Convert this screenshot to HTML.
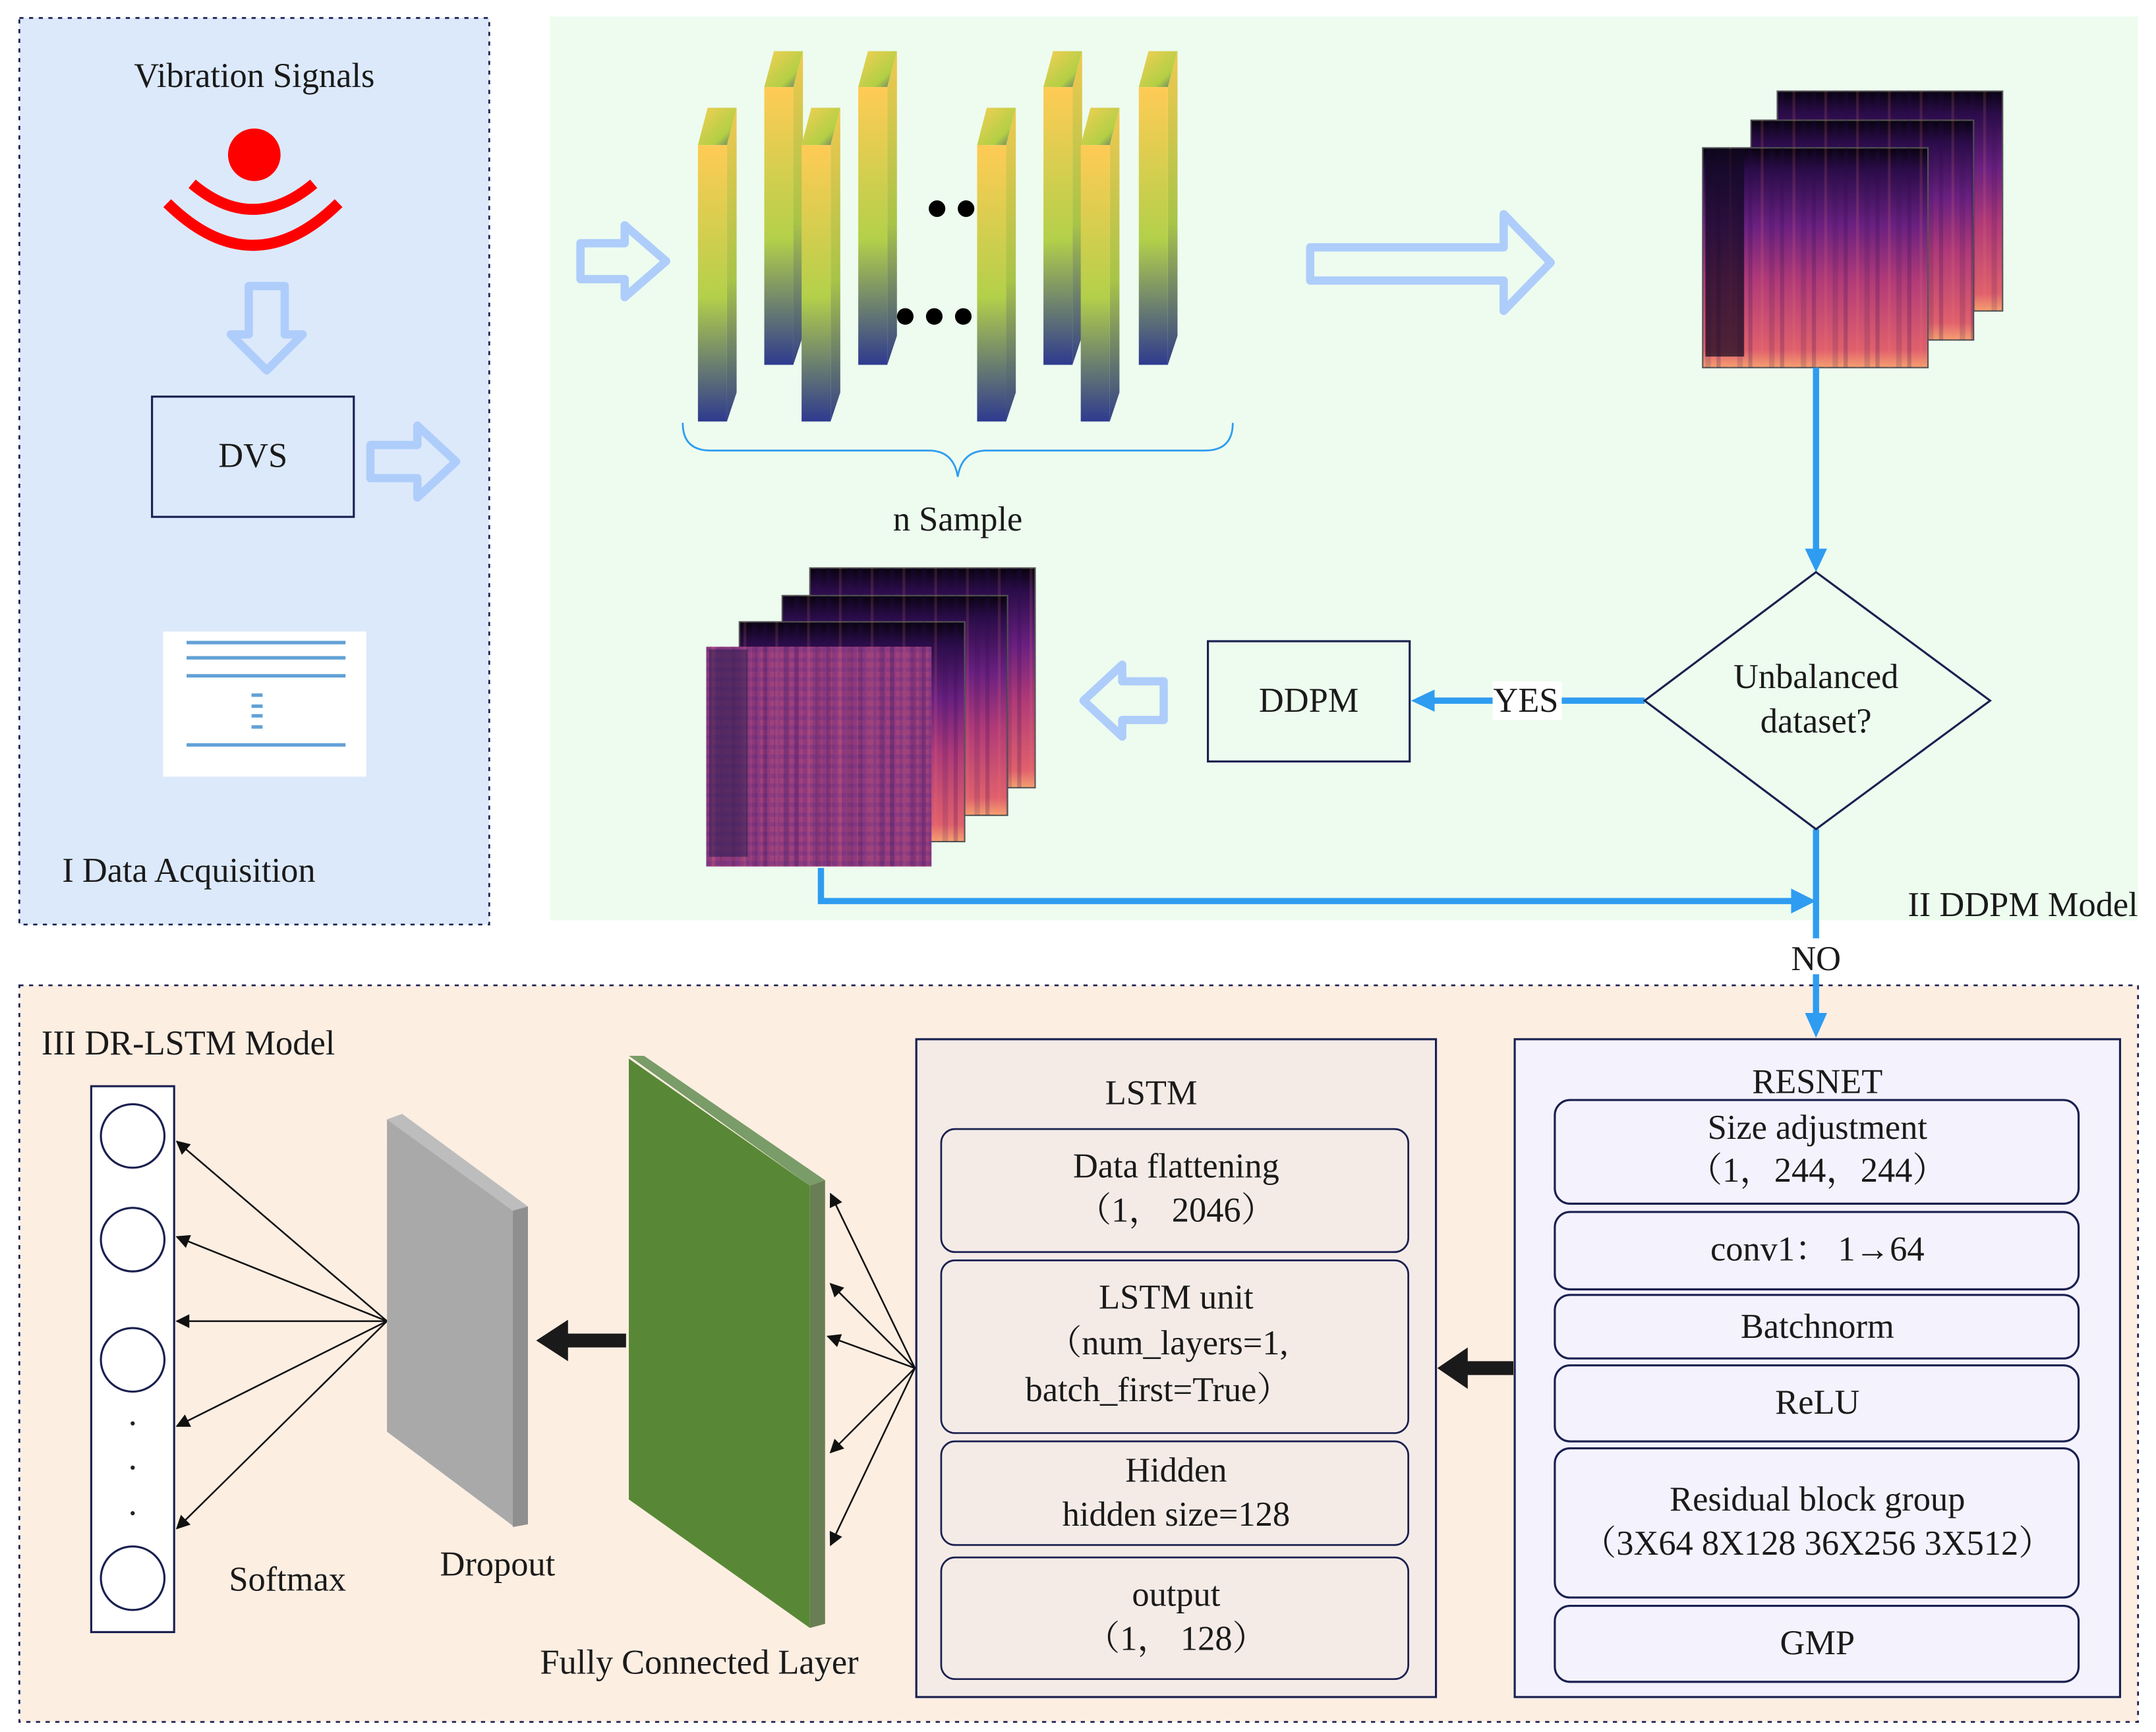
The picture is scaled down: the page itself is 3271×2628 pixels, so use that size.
<!DOCTYPE html>
<html><head><meta charset="utf-8"><style>
html,body{margin:0;padding:0;background:#fff;}
svg{display:block;}
text{font-family:"Liberation Serif","Noto Serif CJK SC",serif;fill:#1a1a1a;}
</style></head><body>
<svg width="3271" height="2628" viewBox="0 0 1560 1253.3" preserveAspectRatio="none" xmlns="http://www.w3.org/2000/svg">
<defs>
<linearGradient id="bar" x1="0" y1="0" x2="0" y2="1">
<stop offset="0" stop-color="#ffcb55"/><stop offset="0.55" stop-color="#b3d04a"/><stop offset="1" stop-color="#2e3a8f"/></linearGradient>
<linearGradient id="barS" x1="0" y1="0" x2="0" y2="1">
<stop offset="0" stop-color="#f0c850"/><stop offset="0.55" stop-color="#a8c448"/><stop offset="1" stop-color="#334088"/></linearGradient>
<linearGradient id="barT" x1="0" y1="0" x2="1" y2="1">
<stop offset="0" stop-color="#f5cf55"/><stop offset="0.7" stop-color="#b2cf45"/><stop offset="1" stop-color="#556a70"/></linearGradient>
<linearGradient id="spec" x1="0" y1="0" x2="0" y2="1">
<stop offset="0" stop-color="#08030f"/><stop offset="0.1" stop-color="#2a0c48"/><stop offset="0.35" stop-color="#6a2080"/><stop offset="0.6" stop-color="#b03a78"/><stop offset="0.92" stop-color="#e0606c"/><stop offset="1" stop-color="#f5a070"/></linearGradient>
<pattern id="stripes" width="23" height="10" patternUnits="userSpaceOnUse"><rect width="3" height="10" fill="#2a0a50" opacity="0.22"/><rect x="9" width="2" height="10" fill="#f08070" opacity="0.15"/><rect x="15" width="4" height="10" fill="#2a0a50" opacity="0.15"/></pattern>
<pattern id="noise" width="7" height="7" patternUnits="userSpaceOnUse"><rect width="3" height="3" fill="#4a2a90" opacity="0.25"/><rect x="4" y="3" width="3" height="4" fill="#e06070" opacity="0.2"/></pattern>
<marker id="ab" markerWidth="10" markerHeight="10" refX="9" refY="5" orient="auto" markerUnits="userSpaceOnUse"><path d="M0,0 L10,5 L0,10 Z" fill="#111"/></marker>
</defs>

<rect x="14" y="13" width="340" height="656" fill="#dce9fb" stroke="#1a2050" stroke-width="1.3" stroke-dasharray="3,4"/>
<rect x="398" y="12" width="1149" height="654" fill="#edfcef"/>
<rect x="14" y="713" width="1533" height="533" fill="#fdeee2" stroke="#1a2050" stroke-width="1.3" stroke-dasharray="3,4"/>

<text x="184" y="63" font-size="25" text-anchor="middle">Vibration Signals</text>
<ellipse cx="184" cy="112" rx="19" ry="19" fill="#ff0000"/>
<path d="M139,133 Q183,170 227,133" fill="none" stroke="#ff0000" stroke-width="8"/>
<path d="M121,147 Q183,208 245,147" fill="none" stroke="#ff0000" stroke-width="8"/>
<path d="M180,207 L206,207 L206,242 L219,242 L193,268 L167,242 L180,242 Z" fill="none" stroke="#aecdfb" stroke-width="6" stroke-linejoin="round"/>
<rect x="110" y="287" width="146" height="87" fill="none" stroke="#1a2050" stroke-width="1.5"/>
<text x="183" y="338" font-size="25" text-anchor="middle">DVS</text>
<path d="M268,322 L302,322 L302,308 L330,334 L302,360 L302,346 L268,346 Z" fill="none" stroke="#aecdfb" stroke-width="6" stroke-linejoin="round"/>
<rect x="118" y="457" width="147" height="105" fill="#fff"/>
<g stroke="#3a8acc" stroke-width="2.5" opacity="0.8">
<line x1="135" y1="465" x2="250" y2="465"/><line x1="135" y1="476" x2="250" y2="476"/><line x1="135" y1="489" x2="250" y2="489"/><line x1="135" y1="539" x2="250" y2="539"/>
<line x1="182" y1="503" x2="190" y2="503"/><line x1="182" y1="511" x2="190" y2="511"/><line x1="182" y1="518" x2="190" y2="518"/><line x1="182" y1="526" x2="190" y2="526"/></g>
<text x="45" y="638" font-size="25">I Data Acquisition</text>

<path d="M420,176 L452,176 L452,163 L482,189 L452,215 L452,202 L420,202 Z" fill="none" stroke="#aecdfb" stroke-width="6" stroke-linejoin="round"/>
<g>
<g transform="translate(553,0)"><polygon points="0,63 21,63 28,37 7,37" fill="url(#barT)"/><polygon points="21,63 28,37 28,243 21,264" fill="url(#barS)"/><rect x="0" y="63" width="21" height="201" fill="url(#bar)"/></g>
<g transform="translate(621,0)"><polygon points="0,63 21,63 28,37 7,37" fill="url(#barT)"/><polygon points="21,63 28,37 28,243 21,264" fill="url(#barS)"/><rect x="0" y="63" width="21" height="201" fill="url(#bar)"/></g>
<g transform="translate(755,0)"><polygon points="0,63 21,63 28,37 7,37" fill="url(#barT)"/><polygon points="21,63 28,37 28,243 21,264" fill="url(#barS)"/><rect x="0" y="63" width="21" height="201" fill="url(#bar)"/></g>
<g transform="translate(824,0)"><polygon points="0,63 21,63 28,37 7,37" fill="url(#barT)"/><polygon points="21,63 28,37 28,243 21,264" fill="url(#barS)"/><rect x="0" y="63" width="21" height="201" fill="url(#bar)"/></g>
<g transform="translate(505,0)"><polygon points="0,105 21,105 28,78 7,78" fill="url(#barT)"/><polygon points="21,105 28,78 28,284 21,305" fill="url(#barS)"/><rect x="0" y="105" width="21" height="200" fill="url(#bar)"/></g>
<g transform="translate(580,0)"><polygon points="0,105 21,105 28,78 7,78" fill="url(#barT)"/><polygon points="21,105 28,78 28,284 21,305" fill="url(#barS)"/><rect x="0" y="105" width="21" height="200" fill="url(#bar)"/></g>
<g transform="translate(707,0)"><polygon points="0,105 21,105 28,78 7,78" fill="url(#barT)"/><polygon points="21,105 28,78 28,284 21,305" fill="url(#barS)"/><rect x="0" y="105" width="21" height="200" fill="url(#bar)"/></g>
<g transform="translate(782,0)"><polygon points="0,105 21,105 28,78 7,78" fill="url(#barT)"/><polygon points="21,105 28,78 28,284 21,305" fill="url(#barS)"/><rect x="0" y="105" width="21" height="200" fill="url(#bar)"/></g>
</g>
<g fill="#000"><ellipse cx="678" cy="151" rx="6" ry="6"/><ellipse cx="699" cy="151" rx="6" ry="6"/><ellipse cx="655" cy="229" rx="6" ry="6"/><ellipse cx="676" cy="229" rx="6" ry="6"/><ellipse cx="697" cy="229" rx="6" ry="6"/></g>
<path d="M494,306 Q494,326 514,326 L672,326 Q690,326 693,345 Q696,326 714,326 L872,326 Q892,326 892,306" fill="none" stroke="#2e9cf0" stroke-width="1.3"/>
<text x="693" y="384" font-size="25" text-anchor="middle">n Sample</text>
<path d="M948,179 L1088,179 L1088,155 L1122,190 L1088,225 L1088,203 L948,203 Z" fill="none" stroke="#aecdfb" stroke-width="6" stroke-linejoin="round"/>

<g>
<rect x="1286" y="66" width="163" height="159" fill="url(#spec)" stroke="#555" stroke-width="1"/><rect x="1286" y="66" width="163" height="159" fill="url(#stripes)"/>
<rect x="1267" y="87" width="161" height="159" fill="url(#spec)" stroke="#555" stroke-width="1"/><rect x="1267" y="87" width="161" height="159" fill="url(#stripes)"/>
<rect x="1232" y="107" width="163" height="159" fill="url(#spec)" stroke="#555" stroke-width="1"/><rect x="1232" y="107" width="163" height="159" fill="url(#stripes)"/>
<rect x="1234" y="108" width="28" height="150" fill="#100820" opacity="0.7"/>
</g>

<g>
<rect x="586" y="411" width="163" height="159" fill="url(#spec)" stroke="#555"/><rect x="586" y="411" width="163" height="159" fill="url(#stripes)"/>
<rect x="566" y="431" width="163" height="159" fill="url(#spec)" stroke="#555"/><rect x="566" y="431" width="163" height="159" fill="url(#stripes)"/>
<rect x="535" y="450" width="163" height="159" fill="url(#spec)" stroke="#555"/><rect x="535" y="450" width="163" height="159" fill="url(#stripes)"/>
<rect x="511" y="468" width="163" height="159" fill="#8e3a7e"/><rect x="511" y="468" width="163" height="159" fill="url(#noise)"/><rect x="511" y="468" width="163" height="159" fill="url(#stripes)"/>
<rect x="513" y="470" width="28" height="150" fill="#2a1e50" opacity="0.55"/>
</g>

<g stroke="#2e9cf0" stroke-width="4.5" fill="none">
<line x1="1314" y1="266" x2="1314" y2="398"/>
<line x1="1190" y1="507" x2="1036" y2="507"/>
<polyline points="594,628 594,652 1298,652"/>
<line x1="1314" y1="600" x2="1314" y2="679"/>
<line x1="1314" y1="705" x2="1314" y2="735"/>
</g>
<g fill="#2e9cf0">
<polygon points="1306,397 1322,397 1314,414"/>
<polygon points="1038,499 1038,515 1021,507"/>
<polygon points="1296,643 1296,661 1314,652"/>
<polygon points="1306,733 1322,733 1314,751"/>
</g>
<polygon points="1314,414 1440,507 1314,600 1190,507" fill="#edfcef" stroke="#1a2050" stroke-width="1.5"/>
<text x="1314" y="498" font-size="25" text-anchor="middle">Unbalanced</text>
<text x="1314" y="530" font-size="25" text-anchor="middle">dataset?</text>
<rect x="1080" y="493" width="50" height="28" fill="#fff"/>
<text x="1104" y="515" font-size="25" text-anchor="middle">YES</text>
<rect x="874" y="464" width="146" height="87" fill="none" stroke="#1a2050" stroke-width="1.5"/>
<text x="947" y="515" font-size="25" text-anchor="middle">DDPM</text>
<path d="M842,493 L812,493 L812,481 L784,507 L812,533 L812,521 L842,521 Z" fill="none" stroke="#aecdfb" stroke-width="6" stroke-linejoin="round"/>
<text x="1547" y="663" font-size="25" text-anchor="end">II DDPM Model</text>
<text x="1314" y="702" font-size="25" text-anchor="middle">NO</text>

<text x="30" y="763" font-size="25">III DR-LSTM Model</text>
<rect x="66" y="786" width="60" height="395" fill="#fff" stroke="#1a2050" stroke-width="1.5"/>
<g fill="#fff" stroke="#1a2050" stroke-width="1.5">
<circle cx="96" cy="822" r="23"/><circle cx="96" cy="897" r="23"/><circle cx="96" cy="984" r="23"/><circle cx="96" cy="1142" r="23"/></g>
<g fill="#222"><circle cx="96" cy="1030" r="1.5"/><circle cx="96" cy="1062" r="1.5"/><circle cx="96" cy="1095" r="1.5"/></g>
<g stroke="#111" stroke-width="1.2" marker-end="url(#ab)">
<line x1="280" y1="956" x2="128" y2="826"/><line x1="280" y1="956" x2="128" y2="895"/><line x1="280" y1="956" x2="128" y2="956"/><line x1="280" y1="956" x2="128" y2="1032"/><line x1="280" y1="956" x2="128" y2="1106"/>
</g>
<polygon points="280,810 291,806 382,873 371,876" fill="#bdbdbd"/>
<polygon points="280,810 371,876 371,1104 280,1036" fill="#a9a9a9"/>
<polygon points="371,876 382,873 382,1103 371,1105" fill="#8f8f8f"/>
<text x="360" y="1140" font-size="25" text-anchor="middle">Dropout</text>
<text x="208" y="1151" font-size="25" text-anchor="middle">Softmax</text>
<polygon points="453,965 411,965 411,955 388,970 411,985 411,975 453,975" fill="#1a1a1a"/>
<polygon points="455,764 466,764 597,854 586,858" fill="#7a9c68"/>
<polygon points="455,766 586,858 586,1178 455,1085" fill="#588836"/>
<polygon points="586,858 597,854 597,1175 586,1178" fill="#6a7e55"/>
<text x="506" y="1211" font-size="25" text-anchor="middle">Fully Connected Layer</text>
<g stroke="#111" stroke-width="1.2" marker-end="url(#ab)">
<line x1="662" y1="990" x2="601" y2="864"/><line x1="662" y1="990" x2="601" y2="929"/><line x1="662" y1="990" x2="599" y2="967"/><line x1="662" y1="990" x2="601" y2="1051"/><line x1="662" y1="990" x2="601" y2="1118"/>
</g>

<rect x="663" y="752" width="376" height="476" fill="#f4ebe7" stroke="#1a2050" stroke-width="1.5"/>
<text x="833" y="799" font-size="25" text-anchor="middle">LSTM</text>
<g fill="#f4ebe7" stroke="#1a2050" stroke-width="1.3">
<rect x="681" y="817" width="338" height="89" rx="10"/>
<rect x="681" y="912" width="338" height="125" rx="10"/>
<rect x="681" y="1043" width="338" height="75" rx="10"/>
<rect x="681" y="1127" width="338" height="88" rx="10"/>
</g>
<g font-size="25" text-anchor="middle">
<text x="851" y="852">Data flattening</text><text x="851" y="884">（1，  2046）</text>
<text x="851" y="947">LSTM unit</text><text x="845" y="980">（num_layers=1,</text><text x="838" y="1014">batch_first=True）</text>
<text x="851" y="1072">Hidden</text><text x="851" y="1104">hidden size=128</text>
<text x="851" y="1162">output</text><text x="851" y="1194">（1， 128）</text>
</g>
<polygon points="1095,985 1062,985 1062,975 1040,990 1062,1005 1062,995 1095,995" fill="#1a1a1a"/>

<rect x="1096" y="752" width="438" height="476" fill="#f4f2fd" stroke="#1a2050" stroke-width="1.5"/>
<text x="1315" y="791" font-size="25" text-anchor="middle">RESNET</text>
<g fill="#f4f2fd" stroke="#1a2050" stroke-width="1.5">
<rect x="1125" y="796" width="379" height="75" rx="11"/>
<rect x="1125" y="877" width="379" height="56" rx="11"/>
<rect x="1125" y="937" width="379" height="46" rx="11"/>
<rect x="1125" y="988" width="379" height="55" rx="11"/>
<rect x="1125" y="1048" width="379" height="108" rx="11"/>
<rect x="1125" y="1162" width="379" height="55" rx="11"/>
</g>
<g font-size="25" text-anchor="middle">
<text x="1315" y="824">Size adjustment</text><text x="1315" y="855">（1，244，244）</text>
<text x="1315" y="912">conv1： 1→64</text>
<text x="1315" y="968">Batchnorm</text>
<text x="1315" y="1023">ReLU</text>
<text x="1315" y="1093">Residual block group</text><text x="1315" y="1125">（3X64 8X128 36X256 3X512）</text>
<text x="1315" y="1197">GMP</text>
</g>
</svg>
</body></html>
